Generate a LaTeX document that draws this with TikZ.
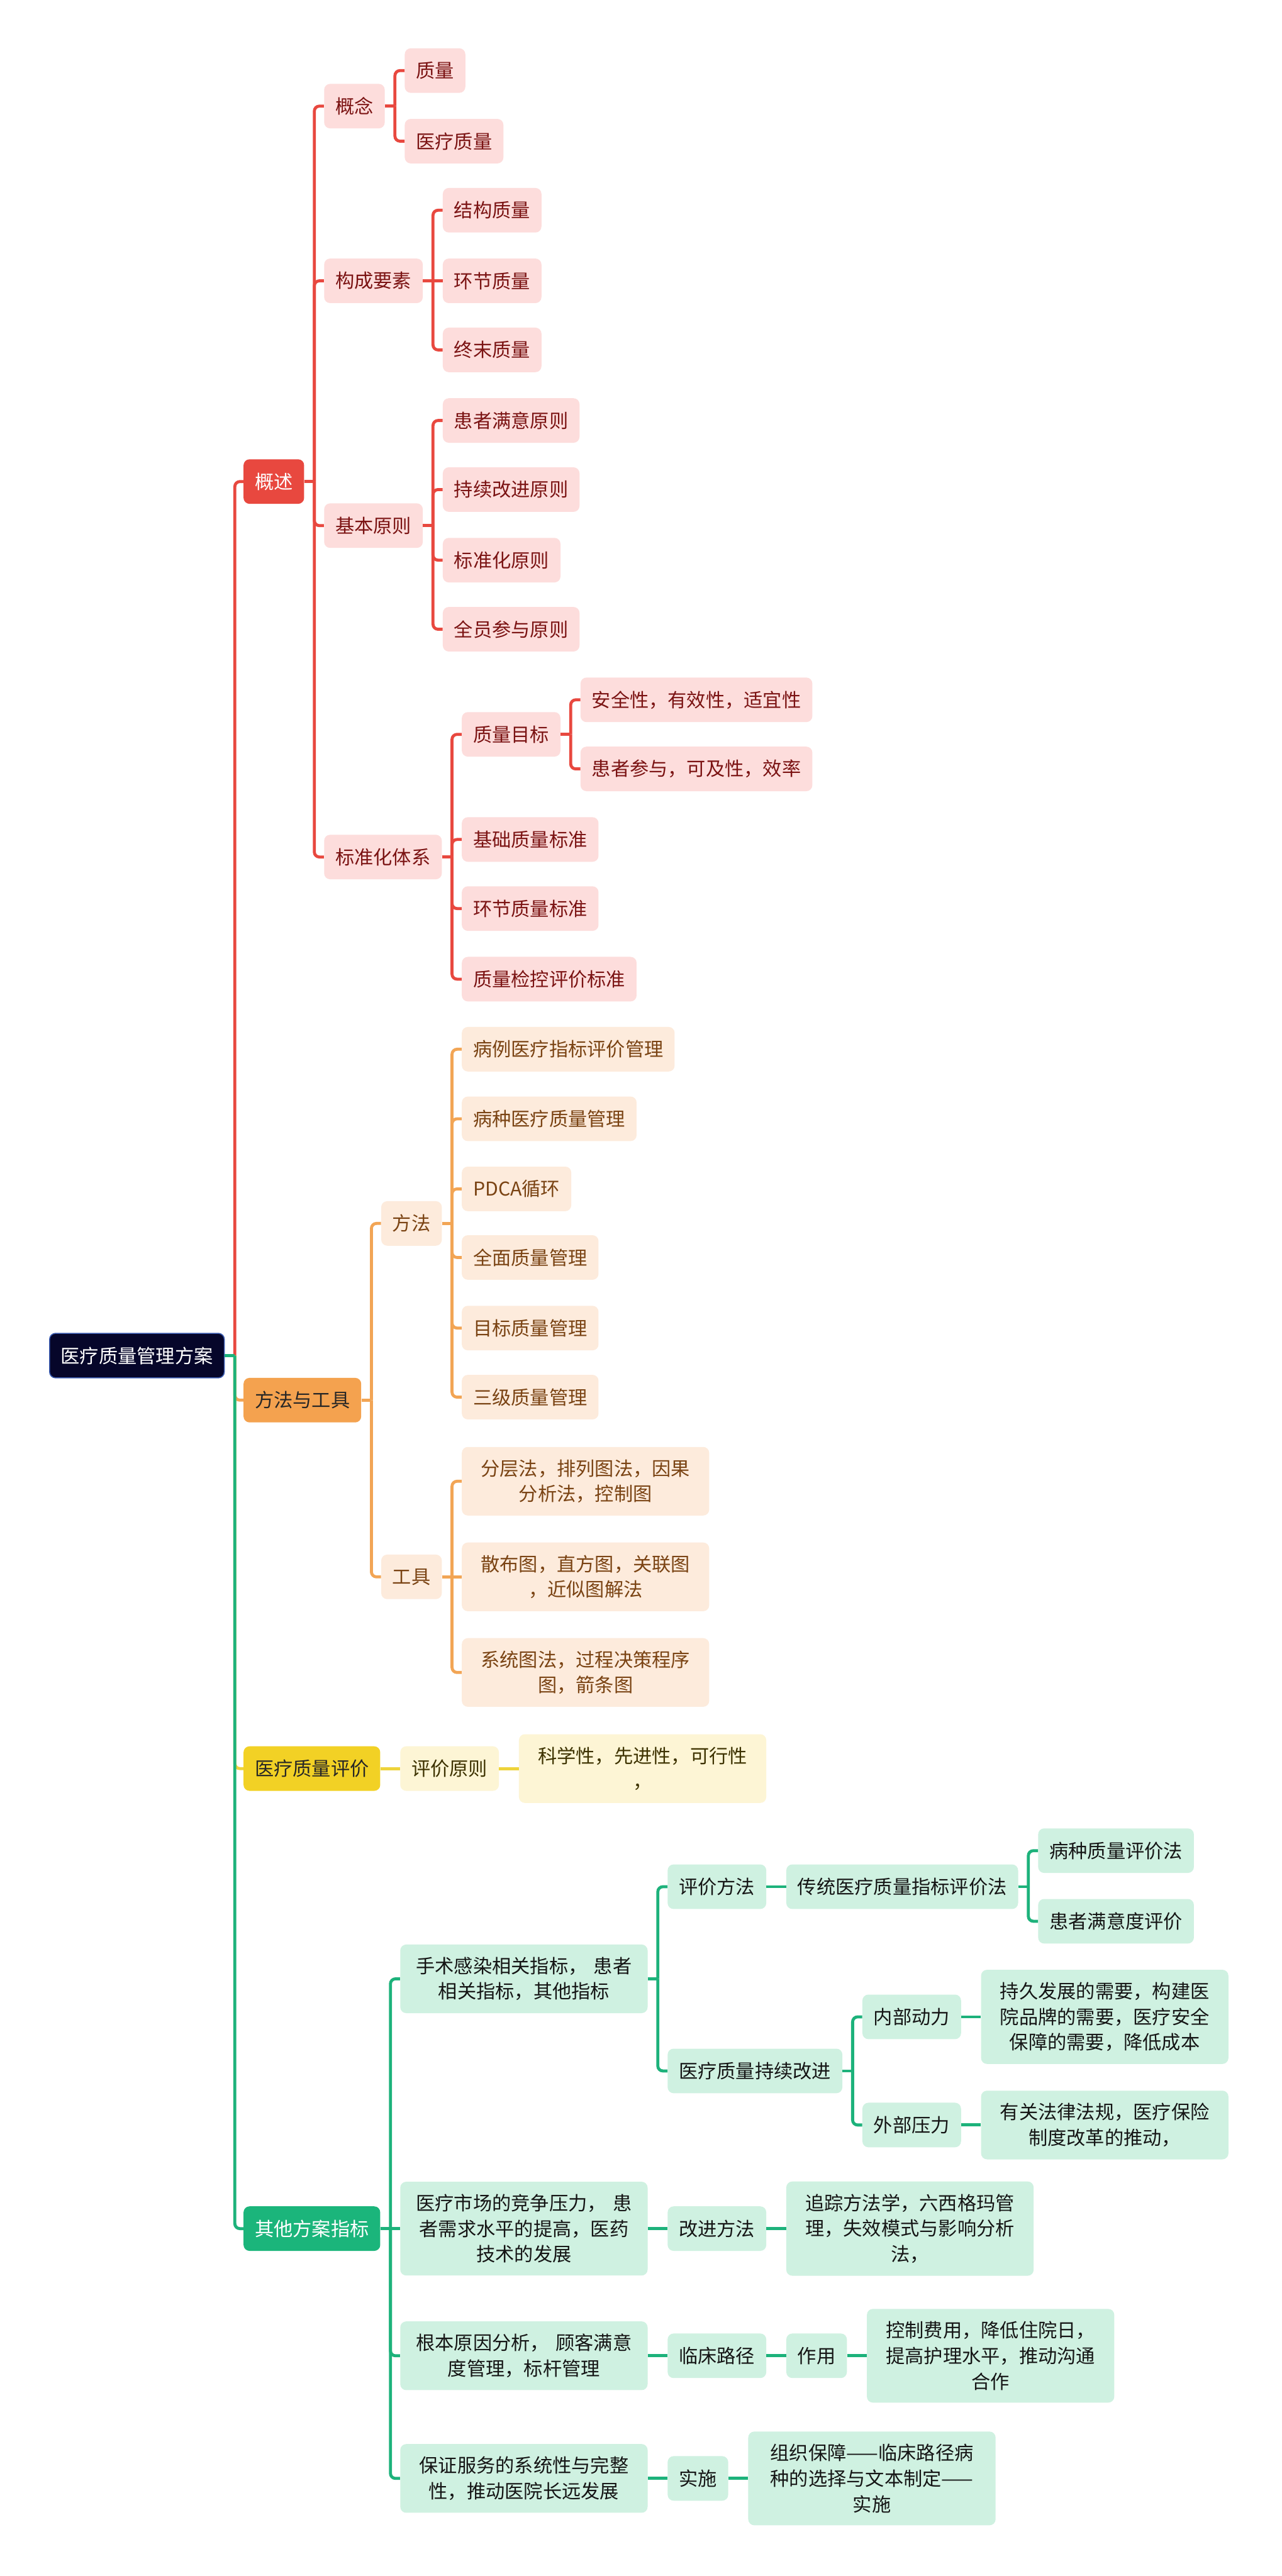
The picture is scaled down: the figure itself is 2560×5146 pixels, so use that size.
\documentclass[tikz,border=0pt]{standalone}
\usepackage{fontspec}
\setmainfont{Noto Sans CJK SC}
\definecolor{cRoot}{HTML}{06062A}
\definecolor{cRootLine}{HTML}{3A5BB0}
\definecolor{cRed}{HTML}{E8483F}
\definecolor{cRedKid}{HTML}{FDDDDC}
\definecolor{cRedText}{HTML}{7B1313}
\definecolor{cOrg}{HTML}{F2A555}
\definecolor{cOrgTop}{HTML}{F4A24F}
\definecolor{cOrgKid}{HTML}{FDEBDC}
\definecolor{cOrgText}{HTML}{7A4313}
\definecolor{cYel}{HTML}{EED33B}
\definecolor{cYelTop}{HTML}{F2D125}
\definecolor{cYelKid}{HTML}{FDF5D5}
\definecolor{cYelText}{HTML}{3D3200}
\definecolor{cGrn}{HTML}{1DB27B}
\definecolor{cGrnTop}{HTML}{1BB57B}
\definecolor{cGrnKid}{HTML}{CFF1E1}
\definecolor{cGrnText}{HTML}{151515}

\begin{document}
\begin{tikzpicture}[x=0.5pt,y=-0.5pt,
  box/.style={anchor=west,rounded corners=6pt,inner xsep=11.25pt,inner ysep=12.5pt,minimum height=44.5pt,align=center,font=\fontsize{19}{25.5}\selectfont},
  wrap/.style={text width=216pt,inner xsep=15.5pt},
  rootbox/.style={box,fill=cRoot,draw=cRootLine,line width=1pt,text=white},
  redtop/.style={box,fill=cRed,text=white},
  redbox/.style={box,fill=cRedKid,text=cRedText},
  orgtop/.style={box,fill=cOrgTop,text=black!85},
  orgbox/.style={box,fill=cOrgKid,text=cOrgText},
  yeltop/.style={box,fill=cYelTop,text=black!85},
  yelbox/.style={box,fill=cYelKid,text=cYelText},
  grntop/.style={box,fill=cGrnTop,text=white},
  grnbox/.style={box,fill=cGrnKid,text=cGrnText},
  rl/.style={draw=cRed,line width=3pt,rounded corners=5pt},
  ol/.style={draw=cOrg,line width=3pt,rounded corners=5pt},
  yl/.style={draw=cYel,line width=3pt,rounded corners=5pt},
  gl/.style={draw=cGrn,line width=3pt,rounded corners=5pt}]
\path[use as bounding box,fill=white] (0,0) rectangle (2560,5146);

\node[rootbox] (root) at (98,2708) {医疗质量管理方案};

% 概述
\node[redtop] (gaishu) at (486,962) {概述};
\node[redbox] (gainian) at (647,212) {概念};
\node[redbox] (zhiliang) at (808,141) {质量};
\node[redbox] (ylzl) at (808,282) {医疗质量};
\node[redbox] (goucheng) at (647,561) {构成要素};
\node[redbox] (jiegou) at (884,420) {结构质量};
\node[redbox] (huanjie) at (884,561) {环节质量};
\node[redbox] (zhongmo) at (884,699) {终末质量};
\node[redbox] (jiben) at (647,1050) {基本原则};
\node[redbox] (hzmy) at (884,840) {患者满意原则};
\node[redbox] (cxgj) at (884,978) {持续改进原则};
\node[redbox] (bzhyz) at (884,1119) {标准化原则};
\node[redbox] (qycy) at (884,1257) {全员参与原则};
\node[redbox] (bzhtx) at (647,1712) {标准化体系};
\node[redbox] (zlmb) at (922,1467) {质量目标};
\node[redbox] (aqx) at (1159,1398) {安全性，有效性，适宜性};
\node[redbox] (hzcy) at (1159,1536) {患者参与，可及性，效率};
\node[redbox] (jczl) at (922,1677) {基础质量标准};
\node[redbox] (hjzlbz) at (922,1815) {环节质量标准};
\node[redbox] (zljk) at (922,1956) {质量检控评价标准};

% 方法与工具
\node[orgtop] (ffgj) at (486,2797) {方法与工具};
\node[orgbox] (fangfa) at (761,2444) {方法};
\node[orgbox] (blyl) at (922,2096) {病例医疗指标评价管理};
\node[orgbox] (bzyl) at (922,2235) {病种医疗质量管理};
\node[orgbox] (pdca) at (922,2375) {PDCA循环};
\node[orgbox] (qmzl) at (922,2512) {全面质量管理};
\node[orgbox] (mbzl) at (922,2653) {目标质量管理};
\node[orgbox] (sjzl) at (922,2791) {三级质量管理};
\node[orgbox] (gongju) at (761,3150) {工具};
\node[orgbox,wrap] (fcf) at (922,2959) {分层法，排列图法，因果\\分析法，控制图};
\node[orgbox,wrap] (sbt) at (922,3150) {散布图，直方图，关联图\\，近似图解法};
\node[orgbox,wrap] (xtt) at (922,3341) {系统图法，过程决策程序\\图，箭条图};

% 医疗质量评价
\node[yeltop] (ylpj) at (486,3533) {医疗质量评价};
\node[yelbox] (pjyz) at (799,3533) {评价原则};
\node[yelbox,wrap] (kxx) at (1036,3533) {科学性，先进性，可行性\\，};

% 其他方案指标
\node[grntop] (qita) at (486,4452) {其他方案指标};
\node[grnbox,wrap] (sszr) at (799,3953) {手术感染相关指标， 患者\\相关指标，其他指标};
\node[grnbox] (pjff) at (1333,3769) {评价方法};
\node[grnbox] (ctff) at (1570,3769) {传统医疗质量指标评价法};
\node[grnbox] (bzzl) at (2073,3697) {病种质量评价法};
\node[grnbox] (hzmd) at (2073,3838) {患者满意度评价};
\node[grnbox] (ylcx) at (1333,4137) {医疗质量持续改进};
\node[grnbox] (nbdl) at (1722,4029) {内部动力};
\node[grnbox,wrap] (cjfz) at (1959,4029) {持久发展的需要，构建医\\院品牌的需要，医疗安全\\保障的需要，降低成本};
\node[grnbox] (wbyl) at (1722,4245) {外部压力};
\node[grnbox,wrap] (ygfl) at (1959,4245) {有关法律法规，医疗保险\\制度改革的推动，};
\node[grnbox,wrap] (ylsc) at (799,4452) {医疗市场的竞争压力， 患\\者需求水平的提高，医药\\技术的发展};
\node[grnbox] (gjff) at (1333,4452) {改进方法};
\node[grnbox,wrap] (zzff) at (1570,4452) {追踪方法学，六西格玛管\\理，失效模式与影响分析\\法，};
\node[grnbox,wrap] (gbyy) at (799,4706) {根本原因分析， 顾客满意\\度管理，标杆管理};
\node[grnbox] (lclj) at (1333,4706) {临床路径};
\node[grnbox] (zuoyong) at (1570,4706) {作用};
\node[grnbox,wrap] (kzfy) at (1731,4706) {控制费用，降低住院日，\\提高护理水平，推动沟通\\合作};
\node[grnbox,wrap] (bzfw) at (799,4951) {保证服务的系统性与完整\\性，推动医院长远发展};
\node[grnbox] (shishi) at (1333,4951) {实施};
\node[grnbox,wrap] (zzbz) at (1494,4951) {组织保障——临床路径病\\种的选择与文本制定——\\实施};

% red links
\draw[rl] (gaishu.west) -| ([xshift=10pt]root.east);
\draw[rl] (gaishu.east) -- ++(10pt,0);
\draw[rl] (gainian.west) -| ([xshift=10pt]gaishu.east);
\draw[rl] (goucheng.west) -| ([xshift=10pt]gaishu.east);
\draw[rl] (jiben.west) -| ([xshift=10pt]gaishu.east);
\draw[rl] (bzhtx.west) -| ([xshift=10pt]gaishu.east);
\draw[rl] (gainian.east) -- ++(10pt,0);
\draw[rl] (zhiliang.west) -| ([xshift=10pt]gainian.east);
\draw[rl] (ylzl.west) -| ([xshift=10pt]gainian.east);
\draw[rl] (goucheng.east) -- (huanjie.west);
\draw[rl] (jiegou.west) -| ([xshift=10pt]goucheng.east);
\draw[rl] (zhongmo.west) -| ([xshift=10pt]goucheng.east);
\draw[rl] (jiben.east) -- ++(10pt,0);
\draw[rl] (hzmy.west) -| ([xshift=10pt]jiben.east);
\draw[rl] (cxgj.west) -| ([xshift=10pt]jiben.east);
\draw[rl] (bzhyz.west) -| ([xshift=10pt]jiben.east);
\draw[rl] (qycy.west) -| ([xshift=10pt]jiben.east);
\draw[rl] (bzhtx.east) -- ++(10pt,0);
\draw[rl] (zlmb.west) -| ([xshift=10pt]bzhtx.east);
\draw[rl] (jczl.west) -| ([xshift=10pt]bzhtx.east);
\draw[rl] (hjzlbz.west) -| ([xshift=10pt]bzhtx.east);
\draw[rl] (zljk.west) -| ([xshift=10pt]bzhtx.east);
\draw[rl] (zlmb.east) -- ++(10pt,0);
\draw[rl] (aqx.west) -| ([xshift=10pt]zlmb.east);
\draw[rl] (hzcy.west) -| ([xshift=10pt]zlmb.east);

% orange links
\draw[ol] (ffgj.west) -| ([xshift=10pt]root.east);
\draw[ol] (ffgj.east) -- ++(10pt,0);
\draw[ol] (fangfa.west) -| ([xshift=10pt]ffgj.east);
\draw[ol] (gongju.west) -| ([xshift=10pt]ffgj.east);
\draw[ol] (fangfa.east) -- ++(10pt,0);
\draw[ol] (blyl.west) -| ([xshift=10pt]fangfa.east);
\draw[ol] (bzyl.west) -| ([xshift=10pt]fangfa.east);
\draw[ol] (pdca.west) -| ([xshift=10pt]fangfa.east);
\draw[ol] (qmzl.west) -| ([xshift=10pt]fangfa.east);
\draw[ol] (mbzl.west) -| ([xshift=10pt]fangfa.east);
\draw[ol] (sjzl.west) -| ([xshift=10pt]fangfa.east);
\draw[ol] (gongju.east) -- (sbt.west);
\draw[ol] (fcf.west) -| ([xshift=10pt]gongju.east);
\draw[ol] (xtt.west) -| ([xshift=10pt]gongju.east);

% yellow links
\draw[yl] (ylpj.west) -| ([xshift=10pt]root.east);
\draw[yl] (ylpj.east) -- (pjyz.west);
\draw[yl] (pjyz.east) -- (kxx.west);

% green links
\draw[gl] (qita.west) -| ([xshift=10pt]root.east);
\draw[gl] (root.east) -- ++(10pt,0);
\draw[gl] (qita.east) -- ++(10pt,0);
\draw[gl] (sszr.west) -| ([xshift=10pt]qita.east);
\draw[gl] (qita.east) -- (ylsc.west);
\draw[gl] (gbyy.west) -| ([xshift=10pt]qita.east);
\draw[gl] (bzfw.west) -| ([xshift=10pt]qita.east);
\draw[gl] (sszr.east) -- ++(10pt,0);
\draw[gl] (pjff.west) -| ([xshift=10pt]sszr.east);
\draw[gl] (ylcx.west) -| ([xshift=10pt]sszr.east);
\draw[gl] (pjff.east) -- (ctff.west);
\draw[gl] (ctff.east) -- ++(10pt,0);
\draw[gl] (bzzl.west) -| ([xshift=10pt]ctff.east);
\draw[gl] (hzmd.west) -| ([xshift=10pt]ctff.east);
\draw[gl] (ylcx.east) -- ++(10pt,0);
\draw[gl] (nbdl.west) -| ([xshift=10pt]ylcx.east);
\draw[gl] (wbyl.west) -| ([xshift=10pt]ylcx.east);
\draw[gl] (nbdl.east) -- (cjfz.west);
\draw[gl] (wbyl.east) -- (ygfl.west);
\draw[gl] (ylsc.east) -- (gjff.west);
\draw[gl] (gjff.east) -- (zzff.west);
\draw[gl] (gbyy.east) -- (lclj.west);
\draw[gl] (lclj.east) -- (zuoyong.west);
\draw[gl] (zuoyong.east) -- (kzfy.west);
\draw[gl] (bzfw.east) -- (shishi.west);
\draw[gl] (shishi.east) -- (zzbz.west);
\end{tikzpicture}
\end{document}
